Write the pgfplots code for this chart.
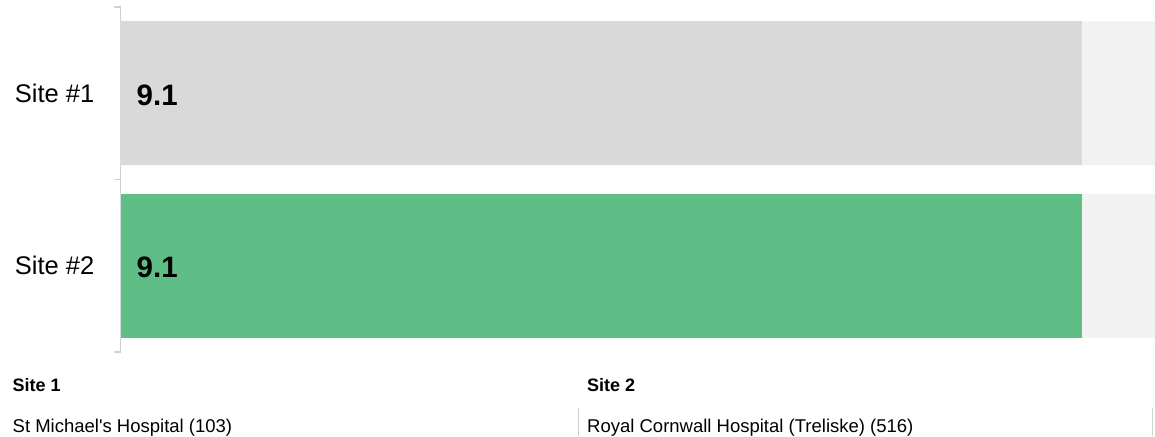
\documentclass[border=0pt]{standalone}
\usepackage{pgfplots}
\pgfplotsset{compat=1.18}
\usepackage{fontspec}
\setmainfont{Liberation Sans}
\definecolor{barGray}{HTML}{D9D9D9}
\definecolor{barGreen}{HTML}{5FBE86}
\definecolor{bgGray}{HTML}{F2F2F2}
\definecolor{axisGray}{HTML}{D0D0D0}
\newcommand{\sq}{\XeTeXglyph\XeTeXcharglyph"27\relax}
\begin{document}
\begin{tikzpicture}
\useasboundingbox (0,0) rectangle (1155pt,-436pt);
\begin{axis}[
  at={(120.5pt,-352pt)}, anchor=south west,
  scale only axis, width=1034.5pt, height=345pt,
  xmin=0, xmax=9.79, ymin=-0.5, ymax=1.5, y dir=reverse,
  axis x line=none,
  axis y line*=left,
  y axis line style={draw=axisGray, line width=1.2pt},
  ytick={0,1}, yticklabels={Site \#1, Site \#2},
  major tick length=0pt,
  minor ytick={-0.5,0.5,1.5},
  minor tick length=6pt,
  tick align=outside,
  minor tick style={draw=axisGray, line width=1.2pt},
  yticklabel style={font=\fontsize{25.5}{30}\selectfont, inner sep=0pt, xshift=-26pt},
  clip=true,
]
\addplot[xbar, bar width=144pt, bar shift=0pt, fill=bgGray, draw=none] coordinates {(10,0) (10,1)};
\addplot[xbar, bar width=144pt, bar shift=0pt, fill=barGray, draw=none] coordinates {(9.1,0)};
\addplot[xbar, bar width=144pt, bar shift=0pt, fill=barGreen, draw=none] coordinates {(9.1,1)};
\addplot[draw=none, mark=none, nodes near coords, point meta=explicit symbolic,
  nodes near coords style={anchor=west, xshift=16pt, yshift=-2pt, font=\bfseries\fontsize{29.5}{34}\selectfont, inner sep=0pt}]
  table[meta=label] {
x y label
0 0 9.1
0 1 9.1
};
\end{axis}
\node[anchor=base west, inner sep=0pt, font=\bfseries\fontsize{18}{21}\selectfont] at (12.5pt,-391pt) {Site 1};
\node[anchor=base west, inner sep=0pt, font=\fontsize{18.5}{22}\selectfont] at (12.5pt,-432.5pt) {St Michael\sq s Hospital (103)};
\node[anchor=base west, inner sep=0pt, font=\bfseries\fontsize{18}{21}\selectfont] at (587pt,-391pt) {Site 2};
\node[anchor=base west, inner sep=0pt, font=\fontsize{18.5}{22}\selectfont] at (587pt,-432.5pt) {Royal Cornwall Hospital (Treliske) (516)};
\draw[axisGray, line width=1pt] (578pt,-408pt) -- (578pt,-436pt);
\draw[axisGray, line width=1pt] (1152pt,-408pt) -- (1152pt,-436pt);
\end{tikzpicture}
\end{document}
